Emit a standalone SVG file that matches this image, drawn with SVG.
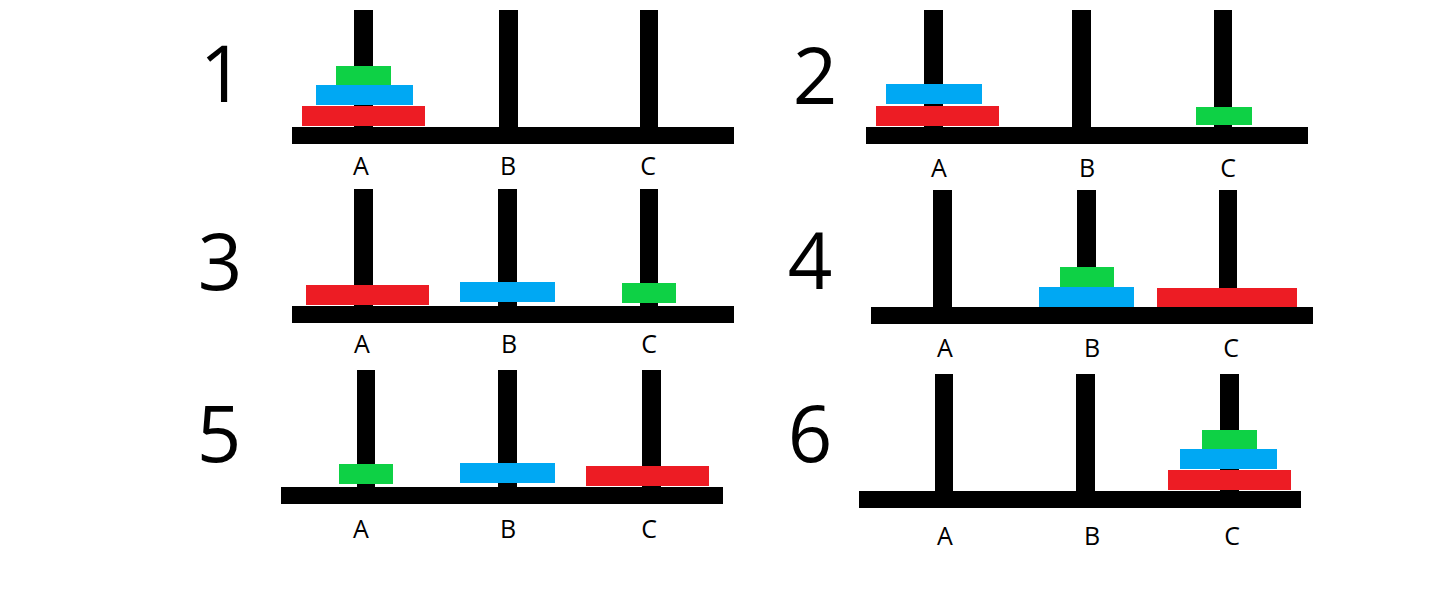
<svg xmlns="http://www.w3.org/2000/svg" width="1446" height="599" viewBox="0 0 1446 599">
<style>
.k{fill:#000}
.r{fill:#ED1C24}
.b{fill:#00A8F3}
.g{fill:#0ED145}
.lbl{font-family:"Open Sans","Noto Sans",sans-serif;font-size:25px;fill:#000;text-anchor:middle}
.num{font-family:"Open Sans","Noto Sans",sans-serif;font-size:78px;fill:#000;text-anchor:middle}
</style>
<rect width="1446" height="599" fill="#fff"/>
<g id="panel1">
<text class="num" x="222" y="102">1</text>
<rect class="k" x="354" y="10" width="19" height="120"/>
<rect class="k" x="499" y="10" width="19" height="120"/>
<rect class="k" x="640" y="10" width="18" height="120"/>
<rect class="k" x="292" y="127" width="442" height="17"/>
<rect class="r" x="302" y="106" width="123" height="20"/>
<rect class="b" x="316" y="85" width="97" height="20"/>
<rect class="g" x="336" y="66" width="55" height="19"/>
<text class="lbl" x="361" y="175">A</text>
<text class="lbl" x="508" y="175">B</text>
<text class="lbl" x="648" y="175">C</text>
</g>
<g id="panel2">
<text class="num" x="815" y="104">2</text>
<rect class="k" x="924" y="10" width="19" height="120"/>
<rect class="k" x="1072" y="10" width="19" height="120"/>
<rect class="k" x="1214" y="10" width="18" height="120"/>
<rect class="k" x="866" y="127" width="442" height="17"/>
<rect class="r" x="876" y="106" width="123" height="20"/>
<rect class="b" x="886" y="84" width="96" height="20"/>
<rect class="g" x="1196" y="107" width="56" height="18"/>
<text class="lbl" x="939" y="177">A</text>
<text class="lbl" x="1087" y="177">B</text>
<text class="lbl" x="1228" y="177">C</text>
</g>
<g id="panel3">
<text class="num" x="220" y="290">3</text>
<rect class="k" x="354" y="189" width="19" height="120"/>
<rect class="k" x="498" y="189" width="19" height="120"/>
<rect class="k" x="640" y="189" width="18" height="120"/>
<rect class="k" x="292" y="306" width="442" height="17"/>
<rect class="r" x="306" y="285" width="123" height="20"/>
<rect class="b" x="460" y="282" width="95" height="20"/>
<rect class="g" x="622" y="283" width="54" height="20"/>
<text class="lbl" x="362" y="353">A</text>
<text class="lbl" x="509" y="353">B</text>
<text class="lbl" x="649" y="353">C</text>
</g>
<g id="panel4">
<text class="num" x="810" y="289">4</text>
<rect class="k" x="933" y="190" width="19" height="120"/>
<rect class="k" x="1077" y="190" width="19" height="100"/>
<rect class="k" x="1219" y="190" width="18" height="100"/>
<rect class="k" x="871" y="307" width="442" height="17"/>
<rect class="b" x="1039" y="287" width="95" height="20"/>
<rect class="g" x="1060" y="267" width="54" height="20"/>
<rect class="r" x="1157" y="288" width="140" height="19"/>
<text class="lbl" x="945" y="357">A</text>
<text class="lbl" x="1092" y="357">B</text>
<text class="lbl" x="1231" y="357">C</text>
</g>
<g id="panel5">
<text class="num" x="219" y="462">5</text>
<rect class="k" x="357" y="370" width="18" height="120"/>
<rect class="k" x="498" y="370" width="19" height="120"/>
<rect class="k" x="642" y="370" width="19" height="120"/>
<rect class="k" x="281" y="487" width="442" height="17"/>
<rect class="g" x="339" y="464" width="54" height="20"/>
<rect class="b" x="460" y="463" width="95" height="20"/>
<rect class="r" x="586" y="466" width="123" height="20"/>
<text class="lbl" x="361" y="538">A</text>
<text class="lbl" x="508" y="538">B</text>
<text class="lbl" x="649" y="538">C</text>
</g>
<g id="panel6">
<text class="num" x="810" y="462">6</text>
<rect class="k" x="935" y="374" width="18" height="120"/>
<rect class="k" x="1076" y="374" width="19" height="120"/>
<rect class="k" x="1220" y="374" width="19" height="120"/>
<rect class="k" x="859" y="491" width="442" height="17"/>
<rect class="r" x="1168" y="470" width="123" height="20"/>
<rect class="b" x="1180" y="449" width="97" height="20"/>
<rect class="g" x="1202" y="430" width="55" height="19"/>
<text class="lbl" x="945" y="545">A</text>
<text class="lbl" x="1092" y="545">B</text>
<text class="lbl" x="1232" y="545">C</text>
</g>
</svg>
